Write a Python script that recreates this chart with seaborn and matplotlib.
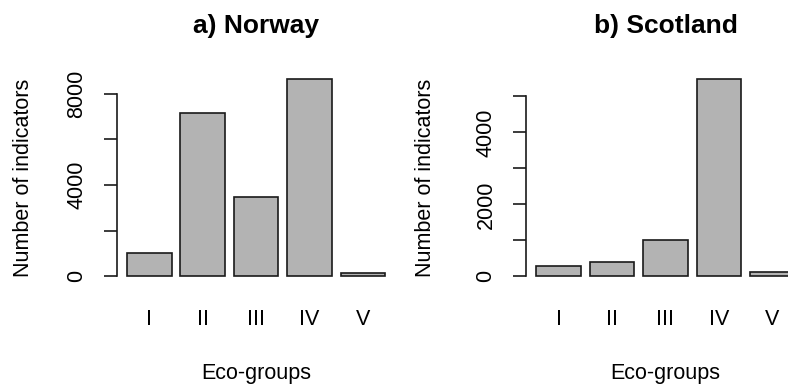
import matplotlib
matplotlib.use("Agg")
import matplotlib.pyplot as plt
import seaborn as sns

# Number of indicators per eco-group
groups = ["I", "II", "III", "IV", "V"]
norway = [1000, 7175, 3478, 8667, 160]
scotland = [286, 389, 1017, 5500, 111]

norway_ticks = [0, 2000, 4000, 6000, 8000]
norway_labels = ["0", "", "4000", "", "8000"]
scotland_ticks = [0, 1000, 2000, 3000, 4000, 5000]
scotland_labels = ["0", "", "2000", "", "4000", ""]

sns.set_style("ticks")
plt.rcParams["font.family"] = ["Liberation Sans", "DejaVu Sans"]
plt.rcParams.update({
    "text.color": "black",
    "axes.labelcolor": "black",
    "xtick.color": "black",
    "ytick.color": "black",
    "xtick.labelcolor": "black",
    "ytick.labelcolor": "black",
})

W, H = 788, 385
fig = plt.figure(figsize=(W / 100, H / 100), dpi=100)

ax_bottom_px, ax_top_px = 284.2, 70.6
ax_w_px = 279


def panel(left_px, ylab_px, values, ticks, labels, title):
    ax = fig.add_axes([left_px / W, 1 - ax_bottom_px / H, ax_w_px / W,
                       (ax_bottom_px - ax_top_px) / H])
    sns.barplot(x=groups, y=values, ax=ax, color="#b3b3b3", saturation=1,
                edgecolor="#1a1a1a", linewidth=1.2, width=1 / 1.2,
                errorbar=None)
    vmax = max(values)
    ax.set_ylim(-0.04 * vmax, 1.04 * vmax)
    ax.set_xlim(-0.4167 - 0.1933, 4.4167 + 0.1933)
    for s in ["top", "right", "bottom"]:
        ax.spines[s].set_visible(False)
    ax.spines["left"].set_bounds(ticks[0], ticks[-1])
    ax.spines["left"].set_linewidth(1.2)
    ax.spines["left"].set_color("#1a1a1a")
    ax.set_yticks(ticks)
    ax.set_yticklabels(labels, rotation=90, ha="center", va="center")
    ax.tick_params(axis="y", length=9.4, width=1.2, color="#1a1a1a",
                   pad=19.4, labelsize=15.5, labelcolor="black")
    ax.tick_params(axis="x", length=0, pad=18, labelsize=15.5,
                   labelcolor="black")
    ax.set_xlabel("Eco-groups", fontsize=15.5, va="center", color="black")
    ax.xaxis.set_label_coords(0.5, -0.416)
    ax.set_ylabel("Number of indicators", fontsize=15.5, va="center",
                  color="black")
    ax.yaxis.set_label_coords((ylab_px - left_px) / ax_w_px, 0.5)
    ax.set_title(title, fontsize=19, fontweight="bold", pad=27,
                 color="black")
    ax.set_facecolor("white")
    return ax


panel(116.7, 24, norway, norway_ticks, norway_labels, "a) Norway")
panel(526, 425, scotland, scotland_ticks, scotland_labels, "b) Scotland")

fig.savefig("out.png", dpi=100, facecolor="white")
